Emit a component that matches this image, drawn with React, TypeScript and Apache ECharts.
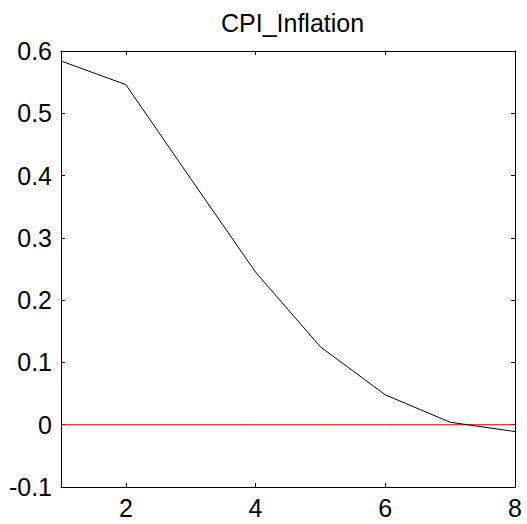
import React, { useEffect, useRef } from "react";
import * as echarts from "echarts";

const titleText = "CPI_Inflation";
const horizons = [1, 2, 3, 4, 5, 6, 7, 8];
const cpiResponse = [0.584, 0.546, 0.395, 0.245, 0.125, 0.048, 0.004, -0.011];
const zeroLine = [0, 0, 0, 0, 0, 0, 0, 0];
const xTickValues = [2, 4, 6, 8];

const FONT = "'Liberation Sans', Arial, sans-serif";

export default function App() {
  const ref = useRef<HTMLDivElement>(null);
  useEffect(() => {
    if (!ref.current) return;
    const chart = echarts.init(ref.current, undefined, { renderer: "svg" });
    const lineData = horizons.map((h, i) => [h, cpiResponse[i]]);
    const zeroData = horizons.map((h, i) => [h, zeroLine[i]]);
    const tickStyle = { show: true, inside: true, length: 4, lineStyle: { color: "#000", width: 1 } };
    chart.setOption({
      animation: false,
      backgroundColor: "#ffffff",
      title: {
        text: titleText,
        left: 216,
        top: 5,
        textStyle: { fontFamily: FONT, fontSize: 25, fontWeight: "normal", color: "#000" },
      },
      grid: { left: 61, right: 12, top: 51, bottom: 37, containLabel: false },
      xAxis: [
        {
          type: "value",
          min: 1,
          max: 8,
          interval: 1,
          position: "bottom",
          axisLine: { show: true, onZero: false, lineStyle: { color: "#000", width: 1 } },
          axisTick: { ...tickStyle, customValues: xTickValues },
          axisLabel: {
            customValues: xTickValues,
            margin: 8,
            fontFamily: FONT,
            fontSize: 25,
            color: "#000",
          },
          splitLine: { show: false },
        },
        {
          type: "value",
          min: 1,
          max: 8,
          interval: 1,
          position: "top",
          axisLine: { show: true, onZero: false, lineStyle: { color: "#000", width: 1 } },
          axisTick: { ...tickStyle, customValues: xTickValues },
          axisLabel: { show: false },
          splitLine: { show: false },
        },
      ],
      yAxis: [
        {
          type: "value",
          min: -0.1,
          max: 0.6,
          interval: 0.1,
          position: "left",
          axisLine: { show: true, onZero: false, lineStyle: { color: "#000", width: 1 } },
          axisTick: tickStyle,
          axisLabel: {
            margin: 9,
            fontFamily: FONT,
            fontSize: 25,
            color: "#000",
            formatter: (v: number) => {
              const r = Math.round(v * 10) / 10;
              return r === 0 ? "0" : String(r);
            },
          },
          splitLine: { show: false },
        },
        {
          type: "value",
          min: -0.1,
          max: 0.6,
          interval: 0.1,
          position: "right",
          axisLine: { show: true, onZero: false, lineStyle: { color: "#000", width: 1 } },
          axisTick: tickStyle,
          axisLabel: { show: false },
          splitLine: { show: false },
        },
      ],
      series: [
        {
          type: "line",
          name: "CPI_Inflation",
          xAxisIndex: 0,
          yAxisIndex: 0,
          data: lineData,
          showSymbol: false,
          symbol: "none",
          lineStyle: { color: "#000", width: 1 },
          z: 3,
        },
        {
          type: "line",
          name: "zero",
          xAxisIndex: 0,
          yAxisIndex: 0,
          data: zeroData,
          showSymbol: false,
          symbol: "none",
          lineStyle: { color: "#ff0000", width: 1 },
          z: 2,
        },
      ],
    });
    return () => chart.dispose();
  }, []);
  return (
    <div
      ref={ref}
      style={{ position: "fixed", left: 0, top: 0, width: 527, height: 524, background: "#fff" }}
    />
  );
}
